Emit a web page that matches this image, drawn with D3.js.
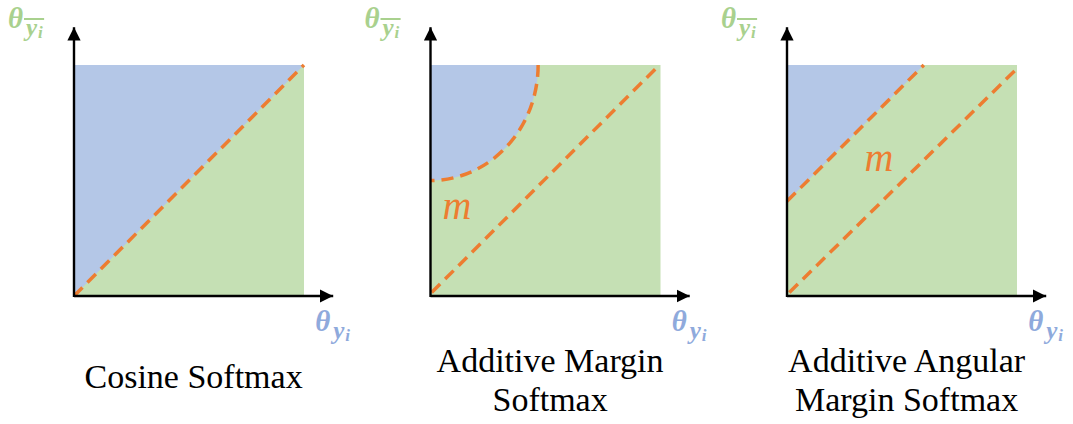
<!DOCTYPE html>
<html>
<head>
<meta charset="utf-8">
<script src="https://cdn.jsdelivr.net/npm/d3@7"></script>
<style>
  html, body { margin: 0; padding: 0; background: #fff; }
  svg { display: block; }
</style>
</head>
<body>
<svg id="chart" width="1073" height="424"></svg>
<script>
// ---------- data ----------
const panelNames = ["Cosine Softmax", "Additive Margin Softmax", "Additive Angular Margin Softmax"];
const titleLines = [["Cosine Softmax"], ["Additive Margin", "Softmax"], ["Additive Angular", "Margin Softmax"]];
// blue (target-class) regions in normalised angle units
const bluePolygons = [
  [[0, 0], [1, 1], [0, 1]],
  null,
  [[0, 0.41], [0.595, 1], [0, 1]]
];
// quarter-ellipse boundary for additive margin (radii in angle units)
const arcRadii = [null, { rx: 0.468, ry: 0.50 }, null];
// dashed decision boundaries
const dashedLines = [
  [[[0, 0], [1, 1]]],
  [[[0.005, 0.015], [0.985, 0.99]]],
  [[[0, 0.41], [0.595, 1]], [[0.01, 0.015], [1, 0.985]]]
];
const marginLabels = [null, { x: 0.115, y: 0.335, t: "m" }, { x: 0.40, y: 0.54, t: "m" }];
const axisLabelText = { main: "θ", sub: "y", subi: "i" };

// ---------- layout ----------
const svg = d3.select("#chart");
const side = 230;
const originX = d3.scalePoint().domain(panelNames).range([74, 787]);
const baseY = 296;
const BLUE = "#B4C7E7", GREEN = "#C5E0B4", ORANGE = "#ED7D31";
const LBL_GREEN = "#A9D18E", LBL_BLUE = "#8FAADC";
const LBL_FONT = "Liberation Serif, 'Times New Roman', serif";

svg.append("defs").append("marker")
  .attr("id", "arrow").attr("viewBox", "0 0 10 10")
  .attr("refX", 10).attr("refY", 5)
  .attr("markerWidth", 5.5).attr("markerHeight", 5.5)
  .attr("markerUnits", "strokeWidth")
  .attr("orient", "auto")
  .append("path").attr("d", "M0,0 L10,5 L0,10 z").attr("fill", "#000");

function thetaLabel(g, lx, ly, color, overline) {
  g.append("text").attr("x", lx).attr("y", ly)
    .attr("font-family", LBL_FONT).attr("font-style", "italic").attr("font-weight", "bold")
    .attr("font-size", 29).attr("fill", color).text(axisLabelText.main);
  const sub = g.append("text").attr("x", lx + 18).attr("y", ly + 8)
    .attr("font-family", LBL_FONT).attr("font-style", "italic").attr("font-weight", "bold")
    .attr("font-size", 25).attr("fill", color);
  sub.append("tspan").text(axisLabelText.sub);
  sub.append("tspan").attr("font-size", 17).attr("dx", 1).attr("dy", 2).text(axisLabelText.subi);
  if (overline) {
    const bb = sub.node().getBBox();
    g.append("line").attr("x1", bb.x + 1).attr("x2", bb.x + bb.width + 1)
      .attr("y1", ly - 9).attr("y2", ly - 9)
      .attr("stroke", color).attr("stroke-width", 2);
  }
}

panelNames.forEach((name, i) => {
  const ox = originX(name);
  const x = d3.scaleLinear().domain([0, 1]).range([ox, ox + side]);
  const y = d3.scaleLinear().domain([0, 1]).range([baseY, baseY - 231]);
  const g = svg.append("g");

  g.append("rect")
    .attr("x", x(0)).attr("y", y(1))
    .attr("width", x(1) - x(0)).attr("height", y(0) - y(1))
    .attr("fill", GREEN);

  const line = d3.line().x(d => x(d[0])).y(d => y(d[1]));

  if (bluePolygons[i]) {
    g.append("path").attr("d", line(bluePolygons[i]) + "Z").attr("fill", BLUE);
  }
  if (arcRadii[i]) {
    const r = arcRadii[i];
    const rx = x(r.rx) - x(0), ry = y(0) - y(r.ry);
    const cx = x(0), cy = y(1);
    g.append("path")
      .attr("d", `M${cx},${cy} L${cx + rx},${cy} A${rx},${ry} 0 0 1 ${cx},${cy + ry} Z`)
      .attr("fill", BLUE);
    g.append("path")
      .attr("d", `M${cx + rx},${cy} A${rx},${ry} 0 0 1 ${cx},${cy + ry}`)
      .attr("fill", "none").attr("stroke", ORANGE)
      .attr("stroke-width", 3.5).attr("stroke-dasharray", "12,7");
  }
  dashedLines[i].forEach(seg => {
    g.append("path").attr("d", line(seg))
      .attr("fill", "none").attr("stroke", ORANGE)
      .attr("stroke-width", 3.5).attr("stroke-dasharray", "12,7");
  });

  // axes
  g.append("line")
    .attr("x1", x(0)).attr("y1", y(0)).attr("x2", x(1.127)).attr("y2", y(0))
    .attr("stroke", "#000").attr("stroke-width", 2.4).attr("marker-end", "url(#arrow)");
  g.append("line")
    .attr("x1", x(0)).attr("y1", y(0) + 1).attr("x2", x(0)).attr("y2", y(1.163))
    .attr("stroke", "#000").attr("stroke-width", 2.4).attr("marker-end", "url(#arrow)");

  if (marginLabels[i]) {
    const m = marginLabels[i];
    g.append("text").attr("x", x(m.x)).attr("y", y(m.y))
      .attr("text-anchor", "middle")
      .attr("font-family", LBL_FONT).attr("font-style", "italic")
      .attr("font-size", 40).attr("fill", ORANGE).text(m.t);
  }

  thetaLabel(g, x(0) - 66, 28, LBL_GREEN, true);
  thetaLabel(g, x(1.127) - 18, 331, LBL_BLUE, false);

  const lines = titleLines[i];
  const t = g.append("text").attr("text-anchor", "middle")
    .attr("font-family", "Liberation Serif, 'Times New Roman', serif")
    .attr("font-size", 34).attr("fill", "#000");
  const firstBase = lines.length === 1 ? 388 : 372;
  lines.forEach((l, k) => {
    t.append("tspan").attr("x", x(0.52)).attr("y", firstBase + k * 39).text(l);
  });
});
</script>
</body>
</html>
